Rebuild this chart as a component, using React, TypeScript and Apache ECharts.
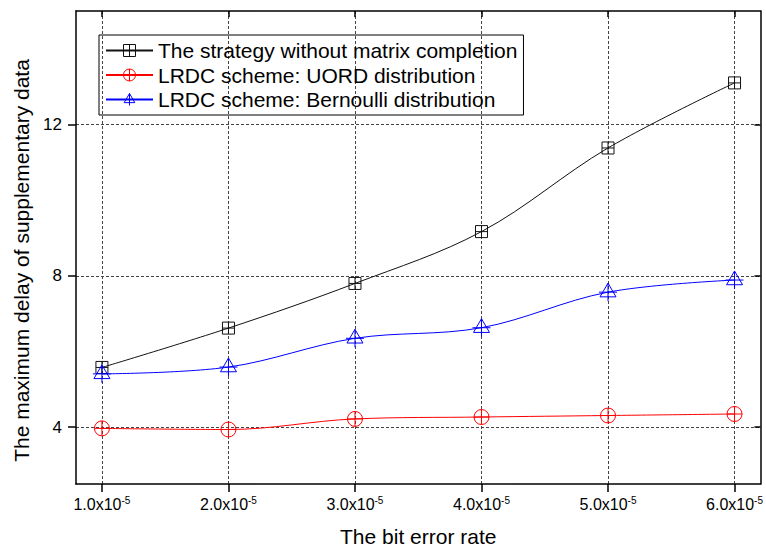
import React, { useEffect, useRef } from "react";
import * as echarts from "echarts";

const xValues = [1, 2, 3, 4, 5, 6];
const xTickLabels = ["1.0", "2.0", "3.0", "4.0", "5.0", "6.0"];
const yTickValues = [4, 8, 12];
const noCompletion = [5.58, 6.62, 7.8, 9.17, 11.38, 13.1];
const uordScheme = [3.97, 3.94, 4.22, 4.27, 4.31, 4.35];
const bernoulliScheme = [5.41, 5.59, 6.35, 6.63, 7.57, 7.89];

const seriesNames = [
  "The strategy without matrix completion",
  "LRDC scheme: UORD distribution",
  "LRDC scheme: Bernoulli distribution",
];

const FONT = "'Liberation Sans', Arial, Helvetica, sans-serif";

const SQUARE_CROSS = "path://M0 0 L10 0 L10 10 L0 10 Z M5 0 L5 10 M0 5 L10 5";
const CIRCLE_CROSS =
  "path://M0 5 A5 5 0 1 0 10 5 A5 5 0 1 0 0 5 Z M5 0 L5 10 M0 5 L10 5";
const TRIANGLE_CROSS =
  "path://M9 0 L17 13.7 L1 13.7 Z M9 0 L9 18 M0 9 L18 9";

export default function App() {
  const ref = useRef<HTMLDivElement>(null);

  useEffect(() => {
    if (!ref.current) return;
    const chart = echarts.init(ref.current, null, { renderer: "svg" });
    const toData = (arr: number[]) => xValues.map((x, i) => [x, arr[i]]);
    const gridLine = {
      show: true,
      lineStyle: { color: "#444", type: [3, 2] as any, width: 1 },
    };
    const axisLine = { show: true, lineStyle: { color: "#000", width: 1.5 } };

    chart.setOption({
      animation: false,
      backgroundColor: "#fff",
      textStyle: { fontFamily: FONT },
      grid: { left: 76, right: 3, top: 11, bottom: 68, containLabel: false },
      legend: {
        orient: "vertical",
        left: 99,
        top: 35,
        padding: [5, 6, 5, 6],
        itemGap: 3.5,
        itemWidth: 47,
        itemHeight: 15,
        borderColor: "#000",
        borderWidth: 1,
        itemStyle: { color: "transparent", borderWidth: 1 },
        textStyle: { fontFamily: FONT, fontSize: 21, color: "#000" },
        data: seriesNames,
      },
      xAxis: [
        {
          type: "value",
          min: 0.795,
          max: 6.205,
          position: "bottom",
          name: "The bit error rate",
          nameLocation: "middle",
          nameGap: 42,
          nameTextStyle: { fontFamily: FONT, fontSize: 21, color: "#000" },
          axisLine,
          axisTick: {
            show: true,
            inside: false,
            length: 8,
            customValues: xValues,
            lineStyle: { color: "#000", width: 1.5 },
          },
          axisLabel: {
            show: true,
            margin: 11,
            customValues: xValues,
            formatter: (v: number) => {
              const i = xValues.indexOf(v);
              return i >= 0 ? `{b|${xTickLabels[i]}x10}{s|-5}` : "";
            },
            rich: {
              b: { fontFamily: FONT, fontSize: 16, color: "#000", lineHeight: 18 },
              s: {
                fontFamily: FONT,
                fontSize: 10,
                color: "#000",
                verticalAlign: "top",
                lineHeight: 18,
              },
            },
          },
          splitLine: gridLine,
        },
        {
          type: "value",
          min: 0.795,
          max: 6.205,
          position: "top",
          axisLine,
          axisTick: {
            show: true,
            inside: true,
            length: 6,
            customValues: xValues,
            lineStyle: { color: "#000", width: 1.5 },
          },
          axisLabel: { show: false },
          splitLine: { show: false },
        },
      ],
      yAxis: [
        {
          type: "value",
          min: 2.5,
          max: 15,
          position: "left",
          name: "The maximum delay of supplementary data",
          nameLocation: "middle",
          nameGap: 42,
          nameTextStyle: {
            fontFamily: FONT,
            fontSize: 21,
            color: "#000",
            padding: [0, 26, 0, 0],
          },
          axisLine,
          axisTick: {
            show: true,
            inside: false,
            length: 8,
            customValues: yTickValues,
            lineStyle: { color: "#000", width: 1.5 },
          },
          axisLabel: {
            show: true,
            margin: 14,
            customValues: yTickValues,
            fontFamily: FONT,
            fontSize: 17,
            color: "#000",
          },
          splitLine: gridLine,
        },
        {
          type: "value",
          min: 2.5,
          max: 15,
          position: "right",
          axisLine,
          axisTick: {
            show: true,
            inside: true,
            length: 6,
            customValues: yTickValues,
            lineStyle: { color: "#000", width: 1.5 },
          },
          axisLabel: { show: false },
          splitLine: { show: false },
        },
      ],
      series: [
        {
          name: seriesNames[0],
          type: "line",
          smooth: 0.35,
          data: toData(noCompletion),
          symbol: SQUARE_CROSS,
          symbolSize: 12,
          lineStyle: { color: "#111", width: 1 },
          itemStyle: { color: "transparent", borderColor: "#111", borderWidth: 1 },
          z: 3,
        },
        {
          name: seriesNames[1],
          type: "line",
          smooth: 0.35,
          data: toData(uordScheme),
          symbol: CIRCLE_CROSS,
          symbolSize: 15,
          lineStyle: { color: "#ff0000", width: 1 },
          itemStyle: { color: "transparent", borderColor: "#ff0000", borderWidth: 1 },
          z: 3,
        },
        {
          name: seriesNames[2],
          type: "line",
          smooth: 0.35,
          data: toData(bernoulliScheme),
          symbol: TRIANGLE_CROSS,
          symbolSize: 18,
          lineStyle: { color: "#0000ff", width: 1 },
          itemStyle: { color: "transparent", borderColor: "#0000ff", borderWidth: 1 },
          z: 3,
        },
      ],
    });
    return () => chart.dispose();
  }, []);

  return <div ref={ref} style={{ width: 766, height: 552, position: "absolute", left: 0, top: 0 }} />;
}
